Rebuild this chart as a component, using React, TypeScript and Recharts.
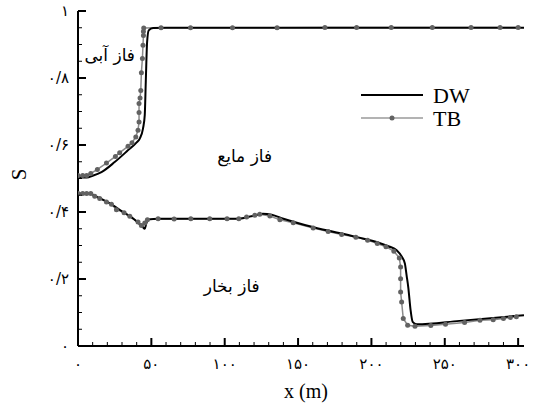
import { LineChart, Line, XAxis, YAxis, Legend, ReferenceDot } from "recharts";

// saturation profiles along the pipe: [x (m), S]
const dwUpper: [number, number][] = [
  [0, 0.503], [6, 0.503], [10, 0.508], [16, 0.519], [25, 0.549], [34, 0.584],
  [40, 0.608], [42.1, 0.619], [44.3, 0.649], [45.5, 0.689], [46.2, 0.788],
  [47.1, 0.907], [48.2, 0.942], [51.2, 0.949], [60, 0.95], [304, 0.95],
];

const dwLower: [number, number][] = [
  [0, 0.455], [8, 0.455], [12, 0.447], [20, 0.43], [30, 0.402], [40, 0.372],
  [44, 0.356], [45.5, 0.35], [46.5, 0.365], [48, 0.378], [55, 0.38], [110, 0.38],
  [118, 0.387], [126, 0.395], [132, 0.392], [140, 0.38], [160, 0.355], [190, 0.325],
  [205, 0.308], [212, 0.297], [217.2, 0.286], [220.5, 0.268], [222.8, 0.246],
  [224, 0.21], [225.1, 0.176], [226.7, 0.107], [228.1, 0.072], [230.8, 0.065],
  [260, 0.075], [304, 0.092],
];

const tbUpper: [number, number][] = [
  [0, 0.509], [3.2, 0.509], [5.9, 0.509], [8.7, 0.515], [13.2, 0.527], [19.4, 0.546],
  [25.5, 0.566], [28.4, 0.577], [34.1, 0.596], [36.8, 0.607], [39.4, 0.624],
  [40.9, 0.644], [41.6, 0.669], [41.6, 0.697], [41.6, 0.724], [42.3, 0.74],
  [42.8, 0.763], [43.2, 0.816], [43.9, 0.858], [44.3, 0.898], [44.6, 0.927],
  [44.6, 0.939], [44.8, 0.949], [56.6, 0.95], [76.7, 0.95], [105.3, 0.95],
  [135.7, 0.95], [168.3, 0.951], [189.9, 0.951], [213.5, 0.951], [241.5, 0.951],
  [267.9, 0.951], [287.7, 0.951], [300, 0.951],
];

const tbLower: [number, number][] = [
  [0, 0.455], [3.2, 0.455], [5.9, 0.455], [8.7, 0.455], [11.4, 0.447], [14.8, 0.44],
  [19.4, 0.43], [22.8, 0.423], [26.2, 0.407], [31.4, 0.398], [35.3, 0.387],
  [40.9, 0.37], [43.2, 0.36], [45.5, 0.367], [47.3, 0.377], [54.6, 0.38],
  [65.5, 0.379], [76.9, 0.38], [89.8, 0.38], [101.6, 0.38], [109.6, 0.38],
  [114.9, 0.385], [120.5, 0.39], [123.9, 0.393], [130.8, 0.388], [137.6, 0.377],
  [146.7, 0.368], [160.3, 0.352], [170.5, 0.342], [179.7, 0.333], [189.4, 0.325],
  [197.4, 0.316], [204, 0.306], [209.9, 0.296], [215.3, 0.283], [219, 0.263],
  [219.9, 0.236], [219.9, 0.201], [219.9, 0.161], [220.6, 0.131], [221.7, 0.082],
  [224.7, 0.062], [229.7, 0.059], [240.5, 0.061], [250.5, 0.065], [263.5, 0.07],
  [274, 0.077], [283, 0.078], [290, 0.082], [294.7, 0.085], [298.8, 0.087],
];

const xTicks = [
  0, 10, 20, 30, 40, 50, 60, 70, 80, 90, 100, 110, 120, 130, 140, 150, 160, 170,
  180, 190, 200, 210, 220, 230, 240, 250, 260, 270, 280, 290, 300,
];
const xLabelled = [0, 50, 100, 150, 200, 250, 300];
const yTicks = [
  0, 0.05, 0.1, 0.15, 0.2, 0.25, 0.3, 0.35, 0.4, 0.45, 0.5, 0.55, 0.6, 0.65, 0.7,
  0.75, 0.8, 0.85, 0.9, 0.95, 1,
];
const yLabelled = [0, 0.2, 0.4, 0.6, 0.8, 1];

// phase names placed inside the plot: [x, S, text]
const phaseLabels: [number, number, string][] = [
  [21.6, 0.868, "فاز آبی"],
  [113.6, 0.566, "فاز مایع"],
  [104.8, 0.178, "فاز بخار"],
];

const toPoints = (rows: [number, number][]) => rows.map(([x, s]) => ({ x, s }));

// western digits -> persian digits, decimal point shown as "/"
const fa = (v: number) =>
  String(v)
    .replace(/\d/g, (d) => "۰۱۲۳۴۵۶۷۸۹"[+d])
    .replace(".", "/");

const serif = "'Liberation Serif', 'DejaVu Serif', serif";
const arabic = "'DejaVu Sans', sans-serif";
const dotStyle = { r: 2.5, fill: "#626262", stroke: "none" };

const XTick = (props: any) => {
  const { x, y, payload } = props;
  const major = xLabelled.includes(payload.value);
  return (
    <g>
      <line x1={x} x2={x} y1={y} y2={y - (major ? 8 : 4)} stroke="#000" strokeWidth={major ? 2 : 1} />
      {major && (
        <text x={x} y={y + 23} textAnchor="middle" fontFamily={arabic} fontSize={15} fill="#000">
          {fa(payload.value)}
        </text>
      )}
    </g>
  );
};

const YTick = (props: any) => {
  const { x, y, payload } = props;
  const major = yLabelled.includes(payload.value);
  return (
    <g>
      <line x1={x} x2={x + (major ? 8 : 4)} y1={y} y2={y} stroke="#000" strokeWidth={major ? 2 : 1} />
      {major && (
        <text x={x - 9} y={y} dy="0.35em" textAnchor="end" fontFamily={arabic} fontSize={15} fill="#000">
          {fa(payload.value)}
        </text>
      )}
    </g>
  );
};

const YTitle = (props: any) => {
  const { viewBox } = props;
  const cx = viewBox.x + 19;
  const cy = viewBox.y + viewBox.height / 2 - 4;
  return (
    <text
      x={cx}
      y={cy}
      dy="0.35em"
      textAnchor="middle"
      transform={`rotate(-90 ${cx} ${cy})`}
      fontFamily={serif}
      fontSize={21}
      fill="#000"
    >
      S
    </text>
  );
};

const LegendBox = () => (
  <svg width={140} height={50}>
    <line x1={6} x2={68} y1={12} y2={12} stroke="#000" strokeWidth={2} />
    <text x={78} y={12} dy="0.35em" fontFamily={serif} fontSize={22} fill="#000">
      DW
    </text>
    <line x1={6} x2={68} y1={35} y2={35} stroke="#9a9a9a" strokeWidth={1.5} />
    <circle cx={37} cy={35} r={2.5} fill="#626262" />
    <text x={78} y={35} dy="0.35em" fontFamily={serif} fontSize={22} fill="#000">
      TB
    </text>
  </svg>
);

export default function App() {
  const axisLine = { stroke: "#000", strokeWidth: 2 };
  return (
    <div style={{ position: "absolute", left: 0, top: 0 }}>
      <LineChart width={533} height={405} margin={{ top: 11, right: 9, bottom: 0, left: 0 }}>
        <XAxis
          dataKey="x"
          type="number"
          domain={[0, 304]}
          allowDataOverflow
          ticks={xTicks}
          interval={0}
          tick={<XTick />}
          tickLine={false}
          tickSize={0}
          tickMargin={0}
          height={59}
          axisLine={axisLine}
          label={{ value: "x (m)", position: "insideBottom", offset: 7, dx: 5, fontFamily: serif, fontSize: 20, fill: "#000" }}
        />
        <XAxis xAxisId="top" orientation="top" type="number" domain={[0, 304]} height={0} tick={false} tickLine={false} axisLine={axisLine} />
        <YAxis
          type="number"
          domain={[0, 1]}
          allowDataOverflow
          ticks={yTicks}
          interval={0}
          tick={<YTick />}
          tickLine={false}
          tickSize={0}
          tickMargin={0}
          width={78}
          axisLine={axisLine}
          label={<YTitle />}
        />
        <YAxis yAxisId="right" orientation="right" type="number" domain={[0, 1]} width={0} tick={false} tickLine={false} axisLine={axisLine} />

        <Line data={toPoints(tbUpper)} dataKey="s" type="linear" stroke="#8a8a8a" strokeWidth={1.5} dot={false} isAnimationActive={false} />
        <Line data={toPoints(tbLower)} dataKey="s" type="linear" stroke="#8a8a8a" strokeWidth={1.5} dot={false} isAnimationActive={false} />
        <Line data={toPoints(dwUpper)} dataKey="s" type="monotone" stroke="#000" strokeWidth={2} dot={false} isAnimationActive={false} />
        <Line data={toPoints(dwLower)} dataKey="s" type="monotone" stroke="#000" strokeWidth={2} dot={false} isAnimationActive={false} />
        <Line data={toPoints(tbUpper)} dataKey="s" stroke="none" dot={dotStyle} isAnimationActive={false} />
        <Line data={toPoints(tbLower)} dataKey="s" stroke="none" dot={dotStyle} isAnimationActive={false} />

        {phaseLabels.map(([x, s, text]) => (
          <ReferenceDot
            key={text}
            x={x}
            y={s}
            r={0}
            fill="none"
            stroke="none"
            label={{ value: text, position: "center", fontFamily: arabic, fontSize: 17, fill: "#000" }}
          />
        ))}

        <Legend
          layout="horizontal"
          verticalAlign="middle"
          align="center"
          content={<LegendBox />}
          wrapperStyle={{ left: 355, top: 83, width: 140 }}
        />
      </LineChart>
    </div>
  );
}
